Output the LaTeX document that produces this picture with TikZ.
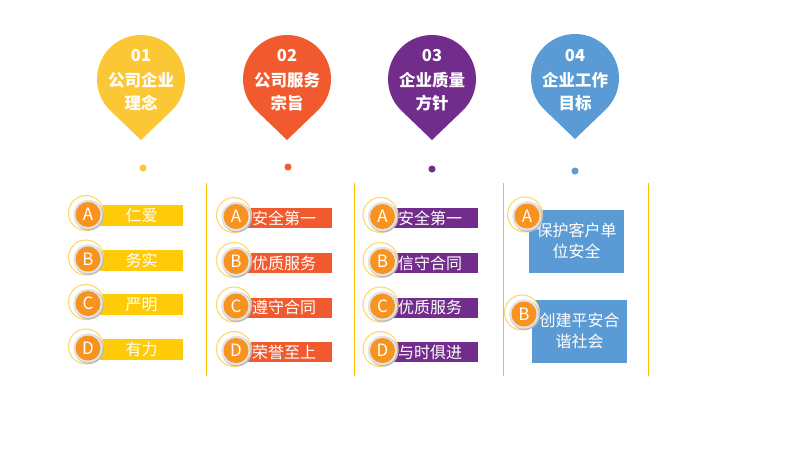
\documentclass[tikz,border=0pt]{standalone}
\usepackage{fontspec}
\setmainfont{Noto Sans CJK SC}
\definecolor{pinY}{HTML}{FCC734}
\definecolor{barY}{HTML}{FFCA08}
\definecolor{pinO}{HTML}{F15A2F}
\definecolor{pinP}{HTML}{722C8B}
\definecolor{pinB}{HTML}{5B9BD5}
\definecolor{badgeO}{HTML}{F7931E}
\definecolor{vline}{HTML}{FFC000}
\definecolor{ringY}{HTML}{FFD966}
\tikzset{
  pintext/.style={text=white, font=\fontsize{16.5}{23}\selectfont\bfseries, align=center, inner sep=0pt},
  dotnode/.style={circle, inner sep=0pt, minimum size=7pt},
  badge/.style={circle, fill=badgeO, inner sep=0pt, minimum size=25pt, text=white, font=\fontsize{17}{17}\selectfont},
  barC/.style={minimum width=83pt, minimum height=21pt, inner sep=0pt, text=white, font=\fontsize{16}{16}\selectfont},
  barL/.style={minimum height=20pt, text width=75pt, inner xsep=5pt, inner ysep=0pt, align=left, text=white, font=\fontsize{16}{16}\selectfont},
  boxB/.style={fill=pinB, minimum width=95pt, minimum height=63pt, text width=95pt, inner sep=0pt, align=center, text=white, font=\fontsize{16}{20.5}\selectfont},
  ring/.pic={
    \fill[white] (-2pt,1.5pt) circle[radius=17.5pt];
    \draw[ringY, line width=1.1pt] (-2pt,1.5pt) circle[radius=17.5pt];
    \fill[gray!55] (0.9pt,-0.9pt) circle[radius=15pt];
    \fill[gray!22] (0,0) circle[radius=14.6pt];
  },
  vsep/.style={draw=vline, line width=0.9pt}
}
\newcommand\mypin[3]{%
  \fill[#3] ($(#1,#2)+(-46.2:44pt)$) arc[start angle=-46.2, end angle=226.2, radius=44pt] -- (#1,#2-61) -- cycle;}
\usetikzlibrary{calc}
\begin{document}
\begin{tikzpicture}[x=1pt,y=1pt]
\useasboundingbox (0,0) rectangle (794,-451);
\fill[white] (0,0) rectangle (794,-451);

% pins
\mypin{141}{-79}{pinY}
\mypin{287}{-79}{pinO}
\mypin{432}{-79}{pinP}
\mypin{575}{-78}{pinB}
\node[pintext] (p1) at (141,-80) {01\\[2pt]公司企业\\理念};
\node[pintext] (p2) at (287,-80) {02\\[2pt]公司服务\\宗旨};
\node[pintext] (p3) at (432,-80) {03\\[2pt]企业质量\\方针};
\node[pintext] (p4) at (575,-80) {04\\[2pt]企业工作\\目标};

% dots
\node[dotnode, fill=pinY] (d1) at (143,-168) {};
\node[dotnode, fill=pinO] (d2) at (288,-167) {};
\node[dotnode, fill=pinP] (d3) at (432,-169) {};
\node[dotnode, fill=pinB] (d4) at (575,-171) {};

% separators
\coordinate (s1t) at (206,-183); \coordinate (s1b) at (206,-376);
\coordinate (s2t) at (354,-183); \coordinate (s2b) at (354,-376);
\coordinate (s3t) at (503,-183); \coordinate (s3b) at (503,-376);
\coordinate (s4t) at (648,-183); \coordinate (s4b) at (648,-376);
\draw[vsep] (s1t) -- (s1b);
\draw[vsep] (s2t) -- (s2b);
\draw[vsep] (s3t) -- (s3b);
\draw[vsep] (s4t) -- (s4b);

% column 1
\node[barC, fill=barY] (c1a) at (141.5,-215.5) {仁爱};
\node[barC, fill=barY] (c1b) at (141.5,-260) {务实};
\node[barC, fill=barY] (c1c) at (141.5,-304.5) {严明};
\node[barC, fill=barY] (c1d) at (141.5,-349) {有力};
\pic at (88,-214.5) {ring}; \node[badge] (b1a) at (88,-214.5) {A};
\pic at (88,-259) {ring}; \node[badge] (b1b) at (88,-259) {B};
\pic at (88,-303.5) {ring}; \node[badge] (b1c) at (88,-303.5) {C};
\pic at (88,-348) {ring}; \node[badge] (b1d) at (88,-348) {D};

% column 2
\node[barL, fill=pinO] (c2a) at (289.5,-218) {安全第一};
\node[barL, fill=pinO] (c2b) at (289.5,-263) {优质服务};
\node[barL, fill=pinO] (c2c) at (289.5,-307.5) {遵守合同};
\node[barL, fill=pinO] (c2d) at (289.5,-352) {荣誉至上};
\pic at (236,-216.5) {ring}; \node[badge] (b2a) at (236,-216.5) {A};
\pic at (236,-261.5) {ring}; \node[badge] (b2b) at (236,-261.5) {B};
\pic at (236,-306) {ring}; \node[badge] (b2c) at (236,-306) {C};
\pic at (236,-350.5) {ring}; \node[badge] (b2d) at (236,-350.5) {D};

% column 3
\node[barL, fill=pinP] (c3a) at (435.5,-218) {安全第一};
\node[barL, fill=pinP] (c3b) at (435.5,-263) {信守合同};
\node[barL, fill=pinP] (c3c) at (435.5,-307.5) {优质服务};
\node[barL, fill=pinP] (c3d) at (435.5,-352) {与时俱进};
\pic at (382.5,-216.5) {ring}; \node[badge] (b3a) at (382.5,-216.5) {A};
\pic at (382.5,-261.5) {ring}; \node[badge] (b3b) at (382.5,-261.5) {B};
\pic at (382.5,-306) {ring}; \node[badge] (b3c) at (382.5,-306) {C};
\pic at (382.5,-350.5) {ring}; \node[badge] (b3d) at (382.5,-350.5) {D};

% column 4
\node[boxB] (c4a) at (576.5,-241) {保护客户单\\位安全};
\node[boxB] (c4b) at (579.5,-331) {创建平安合\\谐社会};
\pic at (527,-216) {ring}; \node[badge] (b4a) at (527,-216) {A};
\pic at (524,-314) {ring}; \node[badge] (b4b) at (524,-314) {B};
\end{tikzpicture}
\end{document}
